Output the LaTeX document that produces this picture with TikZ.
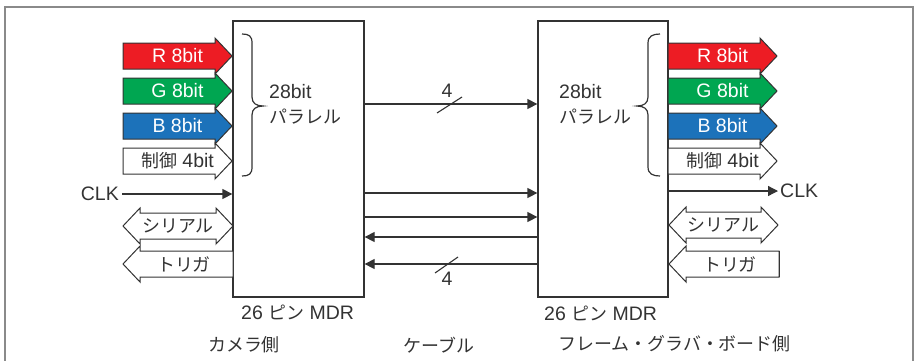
\documentclass[tikz,border=0pt]{standalone}
\usepackage{fontspec}
\setmainfont{Liberation Sans}
\newfontfamily\jp[Scale=0.92]{Noto Sans CJK JP}
\usetikzlibrary{arrows.meta}
\definecolor{ink}{HTML}{333333}
\definecolor{frm}{HTML}{8A8A8A}
\definecolor{cR}{HTML}{ED1C24}
\definecolor{cG}{HTML}{00A651}
\definecolor{cB}{HTML}{1C72BA}
\tikzset{
  lbl/.style={text=ink, inner sep=0pt, font=\fontsize{19.5}{21}\selectfont},
  wlbl/.style={text=white, inner sep=0pt, font=\fontsize{19.5}{21}\selectfont},
  mdr/.style={draw=ink, line width=1.3pt, minimum width=131pt, minimum height=276pt, inner sep=0pt},
  fat/.style={draw=ink, line width=1pt, line join=miter},
  wire/.style={draw=ink, line width=1.3pt},
  tipr/.style={-{Triangle[length=10pt,width=10pt]}},
  brc/.style={draw=ink, line width=1.2pt},
}
% right-pointing fat arrow: #1 fill, #2 x left, #3 x tip, #4 y centre, #5 node name, #6 text, #7 text style
\newcommand\fatright[7]{%
  \draw[fat, fill=#1] ({#2},{#4-13}) -- ({#3-17},{#4-13}) -- ({#3-17},{#4-18}) -- ({#3},{#4})
     -- ({#3-17},{#4+18}) -- ({#3-17},{#4+13}) -- ({#2},{#4+13}) -- cycle;
  \node[#7] (#5) at ({(#2+#3)/2},{#4}) {#6};}
% left-pointing fat arrow
\newcommand\fatleft[6]{%
  \draw[fat, fill=white] ({#3},{#4-13}) -- ({#2+17},{#4-13}) -- ({#2+17},{#4-18}) -- ({#2},{#4})
     -- ({#2+17},{#4+18}) -- ({#2+17},{#4+13}) -- ({#3},{#4+13}) -- cycle;
  \node[#6] (#5) at ({(#2+#3)/2+6},{#4}) {#1};}
% double fat arrow
\newcommand\fatboth[5]{%
  \draw[fat, fill=white] ({#1},{#3}) -- ({#1+17},{#3-18}) -- ({#1+17},{#3-13}) -- ({#2-17},{#3-13})
     -- ({#2-17},{#3-18}) -- ({#2},{#3}) -- ({#2-17},{#3+18}) -- ({#2-17},{#3+13})
     -- ({#1+17},{#3+13}) -- ({#1+17},{#3+18}) -- cycle;
  \node[lbl] (#4) at ({(#1+#2)/2},{#3}) {#5};}
\begin{document}
\begin{tikzpicture}[x=1pt,y=-1pt]
\useasboundingbox (0,0) rectangle (915,360);
% frame
\draw[frm, line width=1.5pt] (5,365) -- (5,7) -- (913,7) -- (913,365);

% connector boxes
\node[mdr] (cam) at (298.5,159) {};
\node[mdr, minimum width=130pt] (fg) at (603,159) {};

% left fat arrows
\fatright{cR}{123}{232}{56}{lR}{R 8bit}{wlbl}
\fatright{cG}{123}{232}{91}{lG}{G 8bit}{wlbl}
\fatright{cB}{123}{232}{126}{lB}{B 8bit}{wlbl}
\fatright{white}{123}{232}{161}{lC}{{\jp 制御} 4bit}{lbl}
\fatboth{123}{233}{226}{lS}{{\jp シリアル}}
\fatleft{{\jp トリガ}}{123}{233}{264}{lT}{lbl}

% right fat arrows
\fatright{cR}{668}{777}{56}{rR}{R 8bit}{wlbl}
\fatright{cG}{668}{777}{91}{rG}{G 8bit}{wlbl}
\fatright{cB}{668}{777}{126}{rB}{B 8bit}{wlbl}
\fatright{white}{668}{777}{161}{rC}{{\jp 制御} 4bit}{lbl}
\fatboth{669}{778}{225}{rS}{{\jp シリアル}}
\fatleft{{\jp トリガ}}{669}{779}{264}{rT}{lbl}
\draw[fat] (779,251) -- (779,277);

% CLK
\node[lbl, anchor=east] (clkL) at (119,194) {CLK};
\draw[wire, tipr] (clkL.east) ++(3,0) coordinate (c0) -- (cam.west |- c0);
\node[lbl, anchor=west] (clkR) at (780,191) {CLK};
\coordinate (c1) at (668,191);
\draw[wire, tipr] (c1) -- ([xshift=-2pt]clkR.west);

% braces
\draw[brc] (242,34) .. controls (249,34) and (252,36) .. (252,43) -- (252,97)
  .. controls (252,103) and (256,106) .. (263,106) .. controls (256,106) and (252,109) .. (252,115)
  -- (252,167) .. controls (252,174) and (249,176) .. (242,176);
\draw[brc] (660,34) .. controls (653,34) and (648,36) .. (648,43) -- (648,97)
  .. controls (648,103) and (644,106) .. (637,106) .. controls (644,106) and (648,109) .. (648,115)
  -- (648,167) .. controls (648,174) and (653,176) .. (660,176);

\node[lbl, anchor=west] (pL1) at (269,92) {28bit};
\node[lbl, anchor=west] (pL2) at (269,117) {\jp パラレル};
\node[lbl, anchor=west] (pR1) at (559,92) {28bit};
\node[lbl, anchor=west] (pR2) at (559,117) {\jp パラレル};

% cable lines
\draw[wire, tipr] (cam.east |- 0,104) -- (fg.west |- 0,104);
\draw[wire, tipr] (cam.east |- 0,193) -- (fg.west |- 0,193);
\draw[wire, tipr] (cam.east |- 0,217) -- (fg.west |- 0,217);
\draw[wire, tipr] (fg.west |- 0,237) -- (cam.east |- 0,237);
\draw[wire, tipr] (fg.west |- 0,264) -- (cam.east |- 0,264);
\draw[ink, line width=1.1pt] (437,113) -- (462,97);
\draw[ink, line width=1.1pt] (435,273) -- (458,257);
\node[lbl] (n4a) at (447,91) {4};
\node[lbl] (n4b) at (447,279) {4};

% captions
\node[lbl, anchor=west] (mL) at (241,312) {26 {\jp ピン} MDR};
\node[lbl, anchor=west] (mR) at (544,313) {26 {\jp ピン} MDR};
\node[lbl] (sL) at (244,345) {\jp カメラ側};
\node[lbl] (sC) at (439,345) {\jp ケーブル};
\node[lbl, anchor=west] (sR) at (558,344) {\jp フレーム・グラバ・ボード側};
\end{tikzpicture}
\end{document}
